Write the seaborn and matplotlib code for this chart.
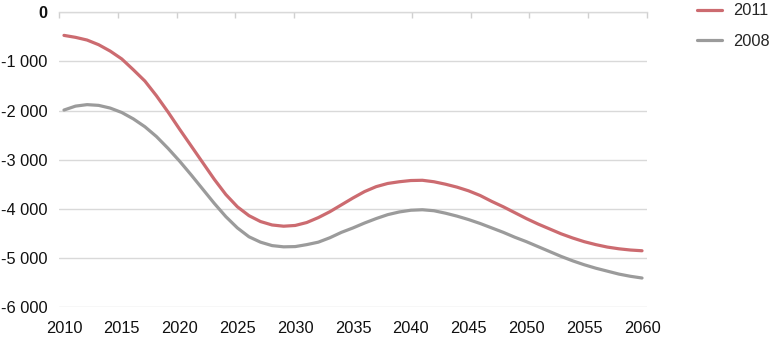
import numpy as np
import pandas as pd
import matplotlib
matplotlib.use("Agg")
import matplotlib.pyplot as plt
import seaborn as sns
from matplotlib.lines import Line2D

years = list(range(2010, 2061))

series_2011 = [
    -470, -510, -565, -660, -790, -950, -1170, -1400, -1700, -2030,
    -2380, -2720, -3060, -3400, -3710, -3960, -4140, -4260, -4330, -4355,
    -4340, -4280, -4180, -4060, -3920, -3780, -3650, -3550, -3485, -3450,
    -3425, -3420, -3450, -3500, -3560, -3635, -3730, -3850, -3960, -4080,
    -4200, -4310, -4410, -4510, -4595, -4670, -4730, -4780, -4815, -4840,
    -4855,
]

series_2008 = [
    -1990, -1910, -1880, -1895, -1950, -2040, -2170, -2330, -2530, -2770,
    -3030, -3310, -3600, -3890, -4160, -4390, -4570, -4680, -4750, -4775,
    -4770, -4730, -4680, -4590, -4480, -4390, -4290, -4200, -4120, -4065,
    -4030, -4020, -4040, -4090, -4150, -4220, -4300, -4390, -4480, -4580,
    -4670, -4770, -4870, -4970, -5060, -5140, -5210, -5270, -5330, -5375,
    -5410,
]

series_names = ["2011", "2008"]
series_colors = ["#CC6B70", "#9B9B9B"]

x_ticks = list(range(2010, 2061, 5))
y_ticks = [0, -1000, -2000, -3000, -4000, -5000, -6000]
y_tick_labels = ["0", "-1 000", "-2 000", "-3 000", "-4 000", "-5 000", "-6 000"]

df = pd.concat([
    pd.DataFrame({"year": years, "value": series_2011, "series": "2011"}),
    pd.DataFrame({"year": years, "value": series_2008, "series": "2008"}),
])

sns.set_theme(style="white")
plt.rcParams["font.family"] = ["Liberation Sans", "DejaVu Sans"]

FS = 11.8

fig = plt.figure(figsize=(7.7, 3.38), dpi=100)
ax = fig.add_axes([59 / 770, 1 - 307 / 338, (647 - 59) / 770, (307 - 12.3) / 338])

sns.lineplot(data=df, x="year", y="value", hue="series", hue_order=series_names,
             palette=series_colors, linewidth=2.3, ax=ax, legend=False)

x0, x1 = 2009.57, 2060.43
ax.set_xlim(x0, x1)
ax.set_ylim(-6000, 0)

ax.set_yticks(y_ticks)
ax.set_yticklabels(y_tick_labels, fontsize=FS, color="#111111")
ax.get_yticklabels()[0].set_fontweight("bold")
ax.set_xticks(x_ticks)
ax.set_xticklabels([str(t) for t in x_ticks], fontsize=FS, color="#111111")
ax.set_xlabel("")
ax.set_ylabel("")

ax.grid(axis="y", color="#D9D9D9", linewidth=1)
ax.grid(axis="x", visible=False)
for s in ["left", "right", "bottom"]:
    ax.spines[s].set_visible(False)
ax.spines["top"].set_color("#D9D9D9")
ax.spines["top"].set_linewidth(1)

ax.tick_params(axis="y", length=0, pad=8.5)
ax.tick_params(axis="x", which="major", length=0, pad=10)
minor = [x0 + k * (x1 - x0) / 10 for k in range(11)]
ax.set_xticks(minor, minor=True)
ax.tick_params(axis="x", which="minor", top=True, bottom=False, direction="in",
               length=4, width=1, color="#D0D0D0")

handles = [Line2D([0], [0], color=c, linewidth=2.3) for c in series_colors]
fig.legend(handles, series_names, loc="upper left", bbox_to_anchor=(697 / 770, 0.99),
           frameon=False, fontsize=FS, handlelength=1.5, handletextpad=0.7,
           labelspacing=0.95, borderpad=0, borderaxespad=0)

fig.savefig("out.png", dpi=100)
